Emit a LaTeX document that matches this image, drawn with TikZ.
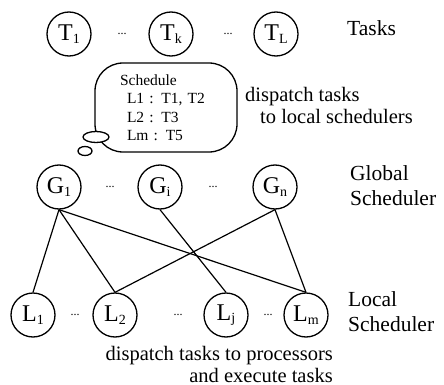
\documentclass[tikz,border=0pt]{standalone}
\usepackage{fontspec}
\setmainfont{Liberation Serif}
\usetikzlibrary{positioning, calc, shapes.geometric}
\newcommand{\idx}[2]{#1\raisebox{-0.1em}{\fontsize{14}{14}\selectfont #2}}
\tikzset{
  proc/.style={circle, draw, line width=1.3pt, minimum size=44pt, inner sep=0pt,
               font=\fontsize{24}{24}\selectfont},
  gap/.style={inner sep=0pt, font=\fontsize{12}{12}\selectfont},
  lbl/.style={anchor=west, align=left, inner sep=0pt, font=\fontsize{21.5}{25}\selectfont},
  note/.style={inner sep=0pt, font=\fontsize{20.5}{22}\selectfont},
  bubble/.style={rectangle, draw, line width=1.3pt, rounded corners=28pt,
                 minimum width=142pt, minimum height=89pt, inner sep=0pt,
                 align=left, text width=92pt, font=\fontsize{15.5}{18.5}\selectfont},
  puff/.style={ellipse, draw, fill=white, line width=1.3pt, inner sep=0pt},
  conn/.style={line width=1.2pt},
}

\begin{document}
\begin{tikzpicture}[x=1pt, y=-1pt]
  \useasboundingbox (0,0) rectangle (444,385);
  % tasks
  \node[proc] (T1) at (69,34)  {\idx{T}{1}};
  \node[proc] (Tk) at (171,34) {\idx{T}{k}};
  \node[proc] (TL) at (276,34) {\idx{T}{L}};
  \node[gap] at (122,34) {...};
  \node[gap] at (228,34) {...};
  \node[lbl] (tasks) at (347,28) {Tasks};
  % schedule bubble
  \node[bubble] (sched) at (166,107.5)
    {Schedule\\\hspace*{7pt}L1 : T1, T2\\\hspace*{7pt}L2 : T3\\\hspace*{7pt}Lm : T5};
  \node[puff, minimum width=26pt, minimum height=11pt] (puffa) at (96,137) {};
  \node[puff, minimum width=14pt, minimum height=9pt]  (puffb) at (85,151) {};
  \node[note, anchor=west, align=left] (disp) at (245,105)
    {dispatch tasks\\\hspace*{15pt}to local schedulers};
  % global schedulers
  \node[proc] (G1) at (59,187)  {\idx{G}{1}};
  \node[proc] (Gi) at (160,187) {\idx{G}{i}};
  \node[proc] (Gn) at (275,187) {\idx{G}{n}};
  \node[gap] at (110,187) {...};
  \node[gap] at (213,187) {...};
  \node[lbl] (glob) at (350,186) {Global\\Scheduler};
  % local schedulers
  \node[proc] (L1) at (33,315)  {\idx{L}{1}};
  \node[proc] (L2) at (115,315) {\idx{L}{2}};
  \node[proc] (Lj) at (226,315) {\idx{L}{j}};
  \node[proc] (Lm) at (306,315) {\idx{L}{m}};
  \node[gap] at (75,315)  {...};
  \node[gap] at (178,315) {...};
  \node[gap] at (268,315) {...};
  \node[lbl] (loc) at (348,312) {Local\\Scheduler};
  \node[note, anchor=east, align=right] (exec) at (333,364)
    {dispatch tasks to processors\\and execute tasks};
  % links
  \foreach \a/\b in {G1/L1, G1/L2, G1/Lm, Gi/Lj, Gn/L2, Gn/Lm}
    \draw[conn] (\a.south) -- (\b.north);
\end{tikzpicture}
\end{document}
